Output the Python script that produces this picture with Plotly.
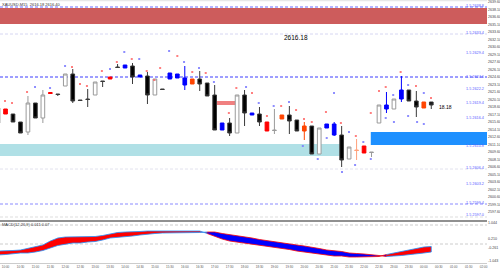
import plotly.graph_objects as go

# ---------------- data ----------------
bar_index = list(range(-1, 58))
c_open  = [2615.4,2618.2,2617.2,2615.6,2613.6,2619.4,2616.4,2621.5,2621.2,2622.8,2625.2,2620.0,2620.2,2621.0,2623.8,2624.6,2626.6,2627.0,2626.8,2625.0,2624.8,2621.0,2622.2,2625.4,2625.2,2624.4,2624.2,2624.2,2623.4,2621.0,2615.4,2615.4,2613.4,2621.0,2617.4,2617.2,2615.6,2614.0,2617.0,2617.0,2616.0,2614.8,2614.8,2609.2,2615.2,2615.2,2613.0,2608.2,2610.0,2610.8,2609.6,2615.4,2619.0,2618.2,2622.0,2622.0,2619.8,2619.6,2619.6]
c_high  = [2618.4,2618.2,2617.2,2615.6,2620.8,2619.4,2622.0,2621.5,2621.2,2625.2,2626.2,2620.0,2622.2,2623.6,2623.8,2624.6,2627.2,2627.0,2627.4,2625.0,2625.6,2624.2,2622.2,2625.4,2625.2,2626.8,2624.2,2625.8,2623.4,2623.0,2615.4,2616.4,2621.0,2622.0,2617.4,2618.6,2615.6,2618.2,2617.0,2618.8,2616.0,2615.6,2614.8,2614.4,2615.2,2615.6,2614.8,2610.6,2612.2,2610.8,2609.6,2619.0,2621.6,2620.2,2624.8,2622.0,2621.8,2619.6,2619.6]
c_low   = [2615.4,2617.2,2615.6,2613.4,2613.0,2616.4,2615.4,2621.3,2620.8,2622.8,2619.4,2619.9,2618.6,2621.0,2622.6,2624.2,2626.5,2626.4,2623.2,2624.6,2619.2,2621.0,2622.1,2624.2,2624.4,2622.0,2623.2,2621.8,2620.8,2614.0,2614.0,2612.8,2613.4,2614.8,2617.0,2614.8,2613.8,2613.2,2616.2,2613.2,2613.8,2612.0,2609.2,2609.2,2614.4,2612.8,2606.6,2608.2,2608.0,2609.4,2608.6,2615.4,2617.4,2618.2,2619.6,2619.8,2616.6,2618.4,2618.2]
c_close = [2618.4,2617.2,2615.6,2613.4,2619.4,2616.4,2621.0,2621.3,2621.1,2625.2,2619.8,2619.9,2620.1,2623.6,2623.7,2624.2,2626.5,2626.4,2624.6,2624.6,2621.0,2624.2,2622.1,2624.2,2624.4,2623.0,2623.2,2623.2,2620.8,2614.0,2614.0,2613.4,2621.0,2617.4,2617.0,2615.6,2613.8,2613.9,2616.2,2615.8,2613.8,2613.8,2609.2,2614.4,2614.4,2613.0,2608.0,2610.6,2609.9,2609.4,2609.5,2619.0,2618.2,2620.2,2620.2,2619.8,2618.6,2618.4,2619.0]
c_kind  = ["hollow","red","black","black","hollow","black","hollow","red","black","hollow",
           "black","black","black","hollow","black","red","black","blue","black","blue",
           "black","hollow","black","blue","blue","blue","orange","black","black","black",
           "blue","black","hollow","black","blue","black","red","hollow","orange","black",
           "black","orange","black","hollow","blue","blue","black","hollow","salmon","red",
           "hollow","hollow","blue","hollow","blue","black","black","orange","black"]

# indicator (fast / slow lines)
ind_fast = [-8,-8,-7.5,-7,-5.5,-4,-2,2,5,6,6,6,6,6.5,7.5,9,10.5,11,11,11.5,12,12,12,12.5,12.5,12.5,12,12,
            9.5,6.5,4,2,1,0,-1,-2,-3.5,-4,-5,-6.5,-8,-9,-10,-11,-12,-13,-13,-14,-14,-14,-14,-13.5,
            -11.5,-10,-8.5,-7,-5.5,-4,-3.5]
ind_slow = [-12,-11.5,-11,-10,-10,-9,-7.5,-5,-2.5,-1,0,0,1,1.5,3,5,6,6.5,7,8,9,9.5,10,10,10.5,10.5,10.5,10.5,
            11,11,9.5,8,7,6,5,3.5,2.5,1,0,-1,-2,-3,-4,-5.5,-7,-8,-8.5,-10,-10.5,-11,-11.5,-12.5,
            -13.5,-13,-12.5,-11.5,-11,-10,-9]

# price levels (dashed)
level_price = [2638.6, 2633.2, 2624.6, 2606.2, 2599.2, 2596.6]
level_color = ["#6a6aff", "#d6d6f2", "#3c3cff", "#e2e2ee", "#8a8aff", "#dddddd"]
ind_level = [18, -1]

# zones: (x0, x1, y0, y1)
zone_x0 = [-0.74, -0.74, 48.9, 27.9]
zone_x1 = [64.5, 45.2, 64.5, 31.0]
zone_y0 = [2635.2, 2608.8, 2611.0, 2619.0]
zone_y1 = [2638.4, 2611.2, 2613.6, 2619.8]

# small marker labels
red_mx = [-0.07,0.87,2.88,8.9,9.97,10.9,12.9,14.9,16.9,18.9,19.9,20.7,23.0,25.0,26.8,29.9,30.9,33.0,35.0,36.9,38.9,39.96,41.0,42.9,44.9,46.9,48.9,50.0,50.9,52.9,54.95,56.96]
red_my = [2619.8,2619.4,2621.6,2626.6,2623.2,2622.8,2625.8,2627.6,2628.2,2625.8,2624.0,2626.4,2628.8,2625.6,2625.4,2617.4,2622.4,2621.4,2616.8,2618.8,2618.0,2616.2,2615.6,2617.6,2615.4,2612.8,2617.4,2621.8,2622.6,2625.6,2622.8,2620.4]
blue_mx = [3.95,5.96,7.97,13.99,15.9,17.9,21.9,23.9,25.9,27.9,32.2,33.9,35.9,37.95,39.8,41.8,43.0,43.98,45.05,45.98,46.8,47.9,48.9,50.9,51.9,52.0,53.9,53.9,55.1,56.0,56.0]
blue_my = [2622.6,2622.4,2626.8,2626.2,2629.6,2628.2,2629.8,2627.6,2626.4,2623.6,2622.6,2619.4,2618.8,2619.6,2610.8,2608.2,2612.4,2621.4,2605.6,2613.6,2607.0,2611.6,2608.2,2616.4,2621.0,2615.6,2623.0,2616.8,2615.6,2621.4,2615.2]

right_lbl_price = [2638.8, 2633.4, 2629.4, 2624.6, 2622.2, 2619.4, 2616.4, 2610.8, 2606.4, 2603.2, 2599.4, 2597.0]

time_ticks = list(range(0, 66, 2))
time_labels = ["10:00","10:30","11:00","11:30","12:00","12:30","13:00","13:30","14:00","14:30","15:00",
               "15:30","16:00","16:30","17:00","17:30","18:00","18:30","19:00","19:30","20:00","20:30",
               "21:00","21:30","22:00","22:30","23:00","23:30","00:00","00:30","01:00","01:30","02:00"]

# ---------------- figure ----------------
W, H = 500, 270
PLOT_W = 487
BOTTOM = 7
plot_h = H - BOTTOM
fig = go.Figure()

kind_style = {
    "black":  ("#000000", "#3a3a3a"),
    "hollow": ("#ffffff", "#9a9a9a"),
    "blue":   ("#0000ff", "#0000ff"),
    "orange": ("#ff4500", "#ff4500"),
    "red":    ("#ff0000", "#ff0000"),
    "salmon": ("#ffa07a", "#ffa07a"),
}
for kind, (fill, line) in kind_style.items():
    sel = [k for k, kk in enumerate(c_kind) if kk == kind]
    fig.add_trace(go.Candlestick(
        x=[bar_index[k] for k in sel],
        open=[c_open[k] for k in sel], high=[c_high[k] for k in sel],
        low=[c_low[k] for k in sel], close=[c_close[k] for k in sel],
        increasing=dict(fillcolor=fill, line=dict(color=line, width=1)),
        decreasing=dict(fillcolor=fill, line=dict(color=line, width=1)),
        whiskerwidth=0, showlegend=False, hoverinfo="skip", xaxis="x", yaxis="y"))

fig.add_trace(go.Scatter(x=red_mx, y=red_my, mode="markers", xaxis="x", yaxis="y",
                         marker=dict(symbol="square", size=2, color="#ff6a6a", opacity=0.85),
                         showlegend=False, hoverinfo="skip"))
fig.add_trace(go.Scatter(x=blue_mx, y=blue_my, mode="markers", xaxis="x", yaxis="y",
                         marker=dict(symbol="square", size=2, color="#7a7aff", opacity=0.85),
                         showlegend=False, hoverinfo="skip"))

# indicator band, coloured by which line is on top
runs = []
start = 0
for k in range(1, len(bar_index) + 1):
    if k == len(bar_index) or (ind_fast[k] > ind_slow[k]) != (ind_fast[start] > ind_slow[start]):
        runs.append((start, min(k, len(bar_index) - 1)))
        start = k
for a, b in runs:
    up = ind_fast[a] > ind_slow[a]
    xs = bar_index[a:b + 1]
    ys_f = ind_fast[a:b + 1]
    ys_s = ind_slow[a:b + 1]
    fig.add_trace(go.Scatter(
        x=xs + xs[::-1], y=ys_f + ys_s[::-1], mode="lines", fill="toself",
        fillcolor="#ff0000" if up else "#0000ff",
        line=dict(color="#1e90ff" if up else "#ff0000", width=0.8),
        xaxis="x", yaxis="y2", showlegend=False, hoverinfo="skip"))

shapes = []
zone_fill = ["#cd5c5c", "#b0e0e6", "#1e90ff", "#f08080"]
for x0, x1, y0, y1, col in zip(zone_x0, zone_x1, zone_y0, zone_y1, zone_fill):
    shapes.append(dict(type="rect", xref="x", yref="y", x0=x0, x1=x1, y0=y0, y1=y1,
                       fillcolor=col, line=dict(width=0), layer="below"))
shapes.append(dict(type="rect", xref="x", yref="y", x0=27.9, x1=28.2, y0=2619.0, y1=2619.8,
                   fillcolor="#2a9d9d", line=dict(width=0), layer="below"))
for p, col in zip(level_price, level_color):
    shapes.append(dict(type="line", xref="x domain", yref="y", x0=0, x1=1, y0=p, y1=p,
                       line=dict(color=col, width=1, dash="3px,2px"), layer="below"))
for v in ind_level:
    shapes.append(dict(type="line", xref="x domain", yref="y2", x0=0, x1=1, y0=v, y1=v,
                       line=dict(color="#cccccc", width=1, dash="3px,2px"), layer="below"))
sep = 1 - 221 / plot_h
shapes.append(dict(type="line", xref="paper", yref="paper", x0=0, x1=1, y0=sep, y1=sep,
                   line=dict(color="#222222", width=1.2)))
shapes.append(dict(type="rect", xref="paper", yref="paper", x0=0, x1=1, y0=1 - 1.2 / plot_h, y1=1,
                   fillcolor="#e8e8e8", line=dict(width=0), layer="below"))

annotations = [
    dict(text="2616.18", xref="paper", yref="y", x=296 / PLOT_W, y=2632.6, showarrow=False,
         font=dict(size=6.5, color="#000000"), xanchor="center", yanchor="middle"),
    dict(text="18.18", xref="paper", yref="y", x=445.5 / PLOT_W, y=2618.6, showarrow=False,
         font=dict(size=5, color="#000000"), xanchor="center", yanchor="middle"),
    dict(text="XAUUSD,M15  2616.18 2616.40", xref="paper", yref="paper", x=0, y=1 - 4 / plot_h,
         showarrow=False, font=dict(size=4, color="#333333"), xanchor="left", yanchor="middle"),
    dict(text="MACD(12,26,9) 0.011 0.07", xref="paper", yref="paper", x=0, y=1 - 224 / plot_h,
         showarrow=False, font=dict(size=4, color="#333333"), xanchor="left", yanchor="middle"),
]
for p in right_lbl_price:
    annotations.append(dict(text="1.5 %.1f" % p, xref="paper", yref="y", x=486 / PLOT_W, y=p,
                            showarrow=False, font=dict(size=3.8, color="#5a5aff"),
                            xanchor="right", yanchor="middle"))

tick_font = dict(family="Liberation Sans, Arial", size=3.6, color="#444444")
fig.update_layout(
    width=W, height=H, margin=dict(l=0, r=W - PLOT_W, t=0, b=BOTTOM, pad=0, autoexpand=False),
    paper_bgcolor="#ffffff", plot_bgcolor="#ffffff",
    shapes=shapes, annotations=annotations, showlegend=False,
    font=dict(family="Liberation Sans, Arial"),
    xaxis=dict(domain=[0, 1], anchor="y2", range=[-0.74, 64.46], rangeslider=dict(visible=False),
               automargin=False,
               showgrid=False, zeroline=False, showline=True, linecolor="#cccccc", linewidth=1,
               ticks="", tickmode="array",
               tickvals=time_ticks, ticktext=time_labels,
               tickfont=dict(size=3, color="#555555"), showticklabels=True),
    yaxis=dict(domain=[1 - 219 / plot_h, 1], anchor="x", side="right", range=[2596.2, 2640.0],
               automargin=False,
               showgrid=False, zeroline=False, tickmode="linear", tick0=2639.6, dtick=1.5,
               tickformat=".2f", tickfont=tick_font, ticks=""),
    yaxis2=dict(domain=[0, 1 - 221 / plot_h], anchor="x", side="right", range=[-20, 22],
                automargin=False,
                showgrid=False, zeroline=False, tickmode="array", tickvals=[20, 4, -5, -18],
                ticktext=["1.044", "0.210", "-0.261", "-1.043"], tickfont=tick_font, ticks=""),
)

fig.write_html("out.html")
